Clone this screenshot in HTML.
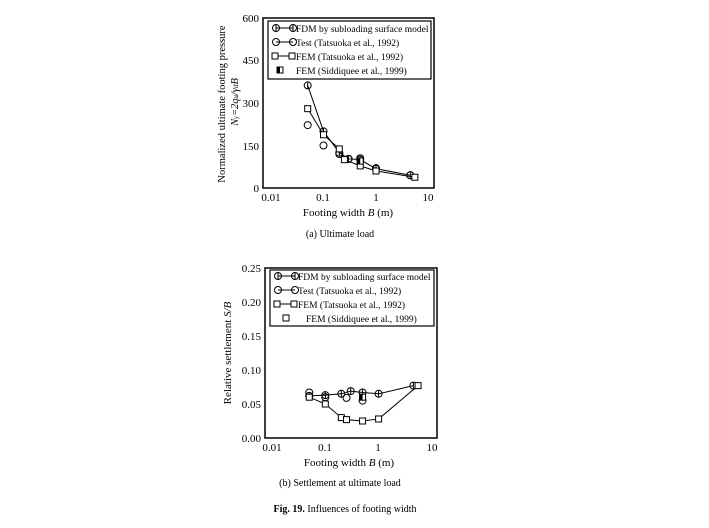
<!DOCTYPE html><html><head><meta charset="utf-8"><style>body{margin:0;background:#fff}svg{display:block}text{font-family:"Liberation Serif",serif;fill:#000}</style></head><body>
<svg id="s" width="709" height="528" viewBox="0 0 709 528" xmlns="http://www.w3.org/2000/svg">
<rect x="263" y="18" width="171" height="170" fill="none" stroke="#000" stroke-width="1.5"/>
<g font-size="11" text-anchor="end">
<text x="259" y="22">600</text><text x="259" y="64">450</text><text x="259" y="107">300</text><text x="259" y="150">150</text><text x="259" y="192">0</text></g>
<g font-size="11" text-anchor="middle">
<text x="271" y="201">0.01</text><text x="323" y="201">0.1</text><text x="376" y="201">1</text><text x="428" y="201">10</text>
<text x="348" y="216">Footing width <tspan font-style="italic">B</tspan> (m)</text>
<text x="340" y="237" font-size="10">(a) Ultimate load</text></g>
<text transform="translate(225,104) rotate(-90)" font-size="10.5" text-anchor="middle">Normalized ultimate footing pressure</text>
<text transform="translate(238,102) rotate(-90)" font-size="10.5" text-anchor="middle" font-style="italic">N<tspan font-size="7">γ</tspan>=2q<tspan font-size="7">u</tspan>/γ<tspan font-size="7">d</tspan>B</text>
<rect x="268" y="21" width="163" height="58" fill="none" stroke="#000" stroke-width="1.2"/>
<g font-size="9.5"><text x="296" y="32">FDM by subloading surface model</text><text x="296" y="46">Test (Tatsuoka et al., 1992)</text><text x="296" y="60">FEM (Tatsuoka et al., 1992)</text><text x="296" y="74">FEM (Siddiquee et al., 1999)</text></g>

<rect x="265" y="268" width="172" height="170" fill="none" stroke="#000" stroke-width="1.5"/>
<g font-size="11" text-anchor="end">
<text x="261" y="272">0.25</text><text x="261" y="306">0.20</text><text x="261" y="340">0.15</text><text x="261" y="374">0.10</text><text x="261" y="408">0.05</text><text x="261" y="442">0.00</text></g>
<g font-size="11" text-anchor="middle">
<text x="272" y="451">0.01</text><text x="325" y="451">0.1</text><text x="378" y="451">1</text><text x="432" y="451">10</text>
<text x="349" y="466">Footing width <tspan font-style="italic">B</tspan> (m)</text>
<text x="340" y="486" font-size="10">(b) Settlement at ultimate load</text>
<text x="345" y="512" font-size="10" font-weight="bold">Fig. 19.<tspan font-weight="normal">  Influences of footing width</tspan></text></g>
<text transform="translate(231,353) rotate(-90)" font-size="11" text-anchor="middle">Relative settlement <tspan font-style="italic">S/B</tspan></text>
<rect x="270" y="270" width="164" height="56" fill="none" stroke="#000" stroke-width="1.2"/>
<g font-size="9.5"><text x="298" y="280">FDM by subloading surface model</text><text x="298" y="294">Test (Tatsuoka et al., 1992)</text><text x="298" y="308">FEM (Tatsuoka et al., 1992)</text><text x="306" y="322">FEM (Siddiquee et al., 1999)</text></g>
<g id="d"></g>
</svg>
<script>
var g=document.getElementById('d'),h='';
function X1(b){return 271+52.5*(Math.log10(b)+2)}function Y1(v){return 188-v*170/600}
function X2(b){return 272+53.3*(Math.log10(b)+2)}function Y2(v){return 438-v*680}
function line(pts){h+='<polyline fill="none" stroke="#000" stroke-width="1" points="'+pts.map(p=>p.join(',')).join(' ')+'"/>'}
function circ(x,y,fdm){h+='<circle cx="'+x+'" cy="'+y+'" r="3.5" fill="none" stroke="#000" stroke-width="1"/>';if(fdm)h+='<line x1="'+x+'" y1="'+(y-3.5)+'" x2="'+x+'" y2="'+(y+3.5)+'" stroke="#000"/>'}
function sq(x,y,half){h+='<rect x="'+(x-3)+'" y="'+(y-3)+'" width="6" height="6" fill="#fff" stroke="#000" stroke-width="1"/>';if(half)h+='<rect x="'+(x-3)+'" y="'+(y-3)+'" width="3" height="6" fill="#000"/>'}
function plot(X,Y,fdm,test,fem,sid){
var a=fdm.map(p=>[X(p[0]),Y(p[1])]);line(a);a.forEach(p=>circ(p[0],p[1],1));
test.forEach(p=>circ(X(p[0]),Y(p[1]),0));
var b=fem.map(p=>[X(p[0]),Y(p[1])]);line(b);b.forEach(p=>sq(p[0],p[1],0));
sid.forEach(p=>sq(X(p[0]),Y(p[1]),1));}
plot(X1,Y1,[[0.05,362],[0.1,200],[0.2,125],[0.3,103],[0.5,100],[1,68],[4.5,45]],
[[0.05,222],[0.1,150],[0.2,120],[0.3,103],[0.5,105],[1,70],[4.5,45]],
[[0.05,280],[0.1,188],[0.2,138],[0.25,100],[0.5,78],[1,60],[5.5,38]],[[0.5,95]]);
plot(X2,Y2,[[0.05,0.062],[0.1,0.063],[0.2,0.065],[0.3,0.069],[0.5,0.067],[1,0.065],[4.5,0.077]],
[[0.05,0.067],[0.1,0.060],[0.25,0.059],[0.5,0.055]],
[[0.05,0.060],[0.1,0.050],[0.2,0.030],[0.25,0.027],[0.5,0.025],[1,0.028],[5.5,0.077]],[[0.5,0.060]]);
[[276,28],[276,42]].forEach((p,i)=>{h+='<line x1="'+p[0]+'" y1="'+p[1]+'" x2="'+(p[0]+17)+'" y2="'+p[1]+'" stroke="#000"/>';circ(p[0],p[1],i==0);circ(p[0]+17,p[1],i==0)});
h+='<line x1="275" y1="56" x2="292" y2="56" stroke="#000"/>';sq(275,56,0);sq(292,56,0);sq(280,70,1);
[[278,276],[278,290]].forEach((p,i)=>{h+='<line x1="'+p[0]+'" y1="'+p[1]+'" x2="'+(p[0]+17)+'" y2="'+p[1]+'" stroke="#000"/>';circ(p[0],p[1],i==0);circ(p[0]+17,p[1],i==0)});
h+='<line x1="277" y1="304" x2="294" y2="304" stroke="#000"/>';sq(277,304,0);sq(294,304,0);sq(286,318,0);
g.innerHTML=h;
</script>
</body></html>
